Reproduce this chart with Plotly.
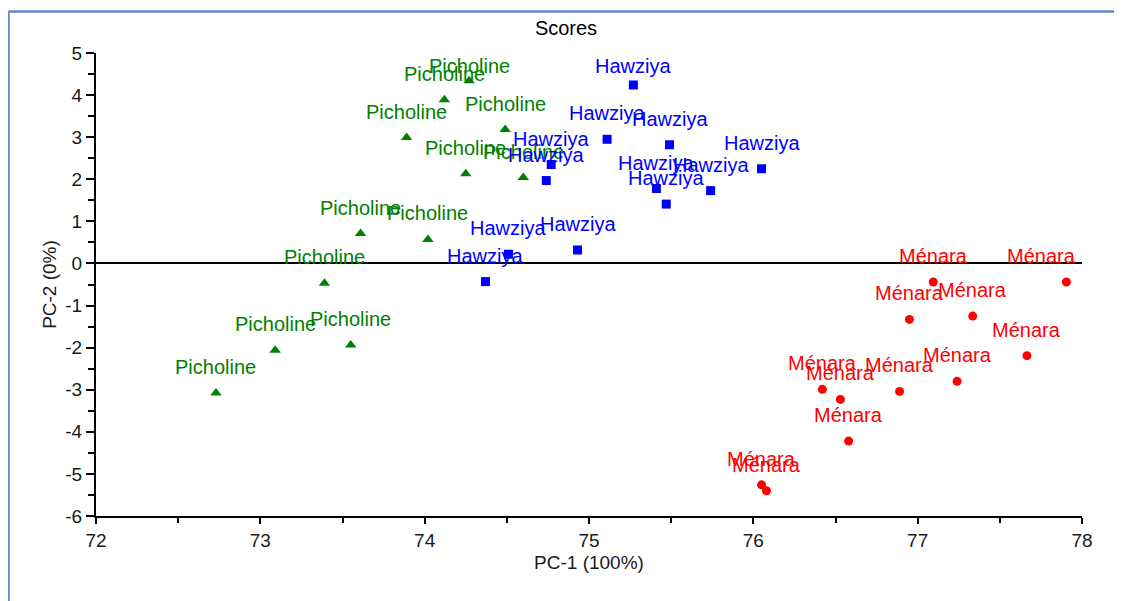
import plotly.graph_objects as go

# ---- data ----
picholine_x = [74.27, 74.12, 74.49, 73.89, 74.25, 74.60, 73.61, 74.02, 73.39, 73.09, 73.55, 72.73]
picholine_y = [4.34, 3.89, 3.18, 2.99, 2.13, 2.04, 0.71, 0.57, -0.47, -2.06, -1.94, -3.08]

hawziya_x = [75.27, 75.11, 75.49, 76.05, 74.77, 74.74, 75.41, 75.74, 75.47, 74.93, 74.51, 74.37]
hawziya_y = [4.24, 2.95, 2.82, 2.25, 2.35, 1.97, 1.78, 1.73, 1.41, 0.32, 0.22, -0.43]

menara_x = [77.905, 77.095, 77.335, 76.95, 77.665, 77.24, 76.89, 76.42, 76.53, 76.58, 76.05, 76.08]
menara_y = [-0.44, -0.44, -1.25, -1.33, -2.19, -2.80, -3.04, -2.99, -3.23, -4.22, -5.26, -5.40]

x_range = [72, 78]
y_range = [-6, 5]
x_ticks = [72, 73, 74, 75, 76, 77, 78]
y_ticks = [5, 4, 3, 2, 1, 0, -1, -2, -3, -4, -5, -6]

groups = [
    ("Picholine", picholine_x, picholine_y, "#008000", "triangle-up", 10),
    ("Hawziya", hawziya_x, hawziya_y, "#0000FF", "square", 9),
    ("Ménara", menara_x, menara_y, "#FF0000", "circle", 9),
]

# ---- layout geometry (page body has an 8px margin) ----
W, H = 1114, 593
ML, MR, MT, MB = 88, 40, 45, 85
PW = W - ML - MR
PH = H - MT - MB
px_per_x = PW / (x_range[1] - x_range[0])
px_per_y = PH / (y_range[1] - y_range[0])

FONT = "Liberation Sans, Arial, sans-serif"
LABEL_SIZE = 20
LABEL_OFFSET = 26

fig = go.Figure()
annotations = []
for name, xs, ys, color, symbol, size in groups:
    fig.add_trace(go.Scatter(
        x=xs, y=ys, mode="markers", name=name,
        marker=dict(color=color, symbol=symbol, size=size, line=dict(width=0)),
        showlegend=False, cliponaxis=False,
    ))
    half_w = len(name) * 0.55 * LABEL_SIZE / 2
    for x, y in zip(xs, ys):
        # keep labels inside the plot area, as in the original
        shift = min(LABEL_OFFSET, (y_range[1] - y) * px_per_y - 12.8)
        ann = dict(x=x, y=y, xref="x", yref="y", text=name, showarrow=False,
                   yanchor="middle", yshift=shift, xanchor="center",
                   font=dict(family=FONT, size=LABEL_SIZE, color=color))
        if (x_range[1] - x) * px_per_x < half_w:
            ann.update(x=x_range[1], xanchor="right", xshift=-4)
        annotations.append(ann)

# outer blue frame (cropped: visible at top and left)
fx = 0.5
fy = 3.5
shapes = [
    dict(type="line", xref="paper", yref="paper",
         x0=(fx - ML) / PW, x1=(W + 5 - ML) / PW,
         y0=(H - MB - fy) / PH, y1=(H - MB - fy) / PH,
         line=dict(color="#5B8BCB", width=2.5)),
    dict(type="line", xref="paper", yref="paper",
         x0=(fx - ML) / PW, x1=(fx - ML) / PW,
         y0=(H - MB - fy) / PH, y1=(H - MB - H - 5) / PH,
         line=dict(color="#5B8BCB", width=2.5)),
]

axis_font = dict(family=FONT, size=19, color="#1a1a1a")
fig.update_layout(
    width=W, height=H,
    margin=dict(l=ML, r=MR, t=MT, b=MB, autoexpand=False),
    paper_bgcolor="white", plot_bgcolor="white",
    title=dict(text="Scores", x=(566 - 8) / W, xref="container", xanchor="center",
               y=1 - 20 / H, yref="container", yanchor="middle",
               font=dict(family=FONT, size=20, color="#000000")),
    annotations=annotations,
    shapes=shapes,
    showlegend=False,
)
fig.update_xaxes(
    range=x_range, tickvals=x_ticks, ticktext=[str(v) for v in x_ticks],
    showgrid=False, zeroline=False,
    showline=True, linecolor="black", linewidth=2,
    ticks="outside", ticklen=6, tickwidth=1.5, tickcolor="black",
    minor=dict(dtick=0.5, ticks="outside", ticklen=5, tickwidth=1.5,
               tickcolor="black", showgrid=False),
    tickfont=axis_font,
    title=dict(text="PC-1 (100%)", font=dict(family=FONT, size=19, color="#1a1a1a"),
               standoff=6),
)
fig.update_yaxes(
    range=y_range, tickvals=y_ticks, ticktext=[str(v) for v in y_ticks],
    showgrid=False,
    zeroline=True, zerolinecolor="black", zerolinewidth=2,
    showline=True, linecolor="black", linewidth=2,
    ticks="outside", ticklen=8, tickwidth=1.5, tickcolor="black",
    minor=dict(dtick=0.5, ticks="outside", ticklen=6, tickwidth=1.5,
               tickcolor="black", showgrid=False),
    tickfont=axis_font,
    title=dict(text="PC-2 (0%)", font=dict(family=FONT, size=19, color="#1a1a1a"),
               standoff=4),
)

fig.write_html("out.html")
